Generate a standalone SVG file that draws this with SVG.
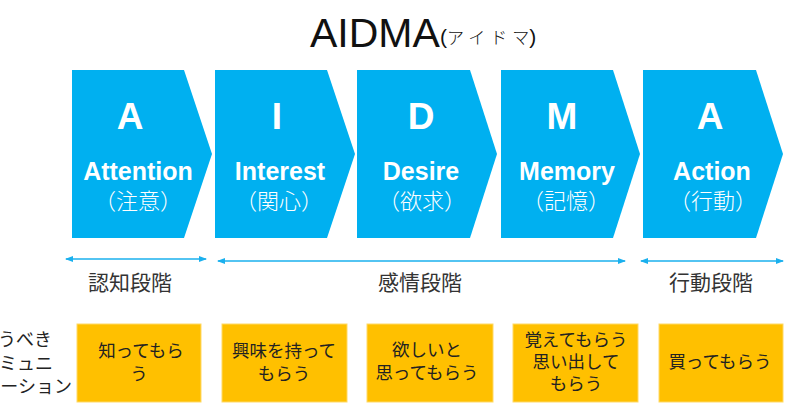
<svg xmlns="http://www.w3.org/2000/svg" width="800" height="419" viewBox="0 0 800 419">
<style>
.chev{fill:#00B0F0}
.big{font-family:"Liberation Sans",Arial,sans-serif;font-weight:bold;font-size:37px;fill:#fff;text-anchor:middle}
.word{font-family:"Liberation Sans",Arial,sans-serif;font-weight:bold;font-size:25px;fill:#fff;text-anchor:middle}
.jp{font-family:"Noto Sans CJK JP","Noto Sans CJK SC",sans-serif;font-weight:300;font-size:22px;fill:#fff;text-anchor:middle}
.stage{font-family:"Noto Sans CJK JP",sans-serif;font-size:21px;fill:#333;text-anchor:middle}
.box{fill:#FFC000;stroke:#FFD966;stroke-width:1}
.bt{font-family:"Noto Sans CJK JP",sans-serif;font-size:17.5px;fill:#222;text-anchor:middle}
.side{font-family:"Noto Sans CJK JP",sans-serif;font-size:18px;fill:#222;text-anchor:end}
.conn{stroke:#1AB0EE;stroke-width:1.6;fill:none;marker-start:url(#ah);marker-end:url(#ah)}
</style>
<defs>
<marker id="ah" viewBox="0 0 8 6" refX="7" refY="3" markerWidth="8" markerHeight="6" markerUnits="userSpaceOnUse" orient="auto-start-reverse">
<path d="M0,0 L8,3 L0,6 Z" fill="#1AB0EE"/>
</marker>
</defs>

<g id="title">
<text x="310" y="47" font-family="Liberation Sans,Arial,sans-serif" font-size="41" fill="#111">AIDMA</text>
<text x="440" y="44" font-family="Liberation Sans,Arial,sans-serif" font-size="21" fill="#111">(<tspan font-family="Noto Sans CJK JP,sans-serif" font-size="17" font-weight="300" letter-spacing="5">アイド</tspan><tspan font-family="Noto Sans CJK JP,sans-serif" font-size="17" font-weight="300">マ</tspan>)</text>
</g>

<g id="attention">
<polygon class="chev" points="72,70 184,70 212,154 184,238 72,238"/>
<text class="big" x="130" y="129">A</text>
<text class="word" x="138" y="180">Attention</text>
<text class="jp" x="138" y="209">（注意）</text>
</g>
<g id="interest">
<polygon class="chev" points="215,70 327,70 355,154 327,238 215,238"/>
<text class="big" x="277" y="129">I</text>
<text class="word" x="280" y="180">Interest</text>
<text class="jp" x="279" y="209">（関心）</text>
</g>
<g id="desire">
<polygon class="chev" points="357,70 470,70 497,154 470,238 357,238"/>
<text class="big" x="421" y="129">D</text>
<text class="word" x="421" y="180">Desire</text>
<text class="jp" x="422" y="209">（欲求）</text>
</g>
<g id="memory">
<polygon class="chev" points="501,70 613,70 640,154 613,238 501,238"/>
<text class="big" x="562" y="129">M</text>
<text class="word" x="567" y="180">Memory</text>
<text class="jp" x="566" y="209">（記憶）</text>
</g>
<g id="action">
<polygon class="chev" points="643,70 756,70 783,154 756,238 643,238"/>
<text class="big" x="710" y="129">A</text>
<text class="word" x="712" y="180">Action</text>
<text class="jp" x="713" y="209">（行動）</text>
</g>

<g id="connectors">
<line class="conn" x1="66" y1="259" x2="206" y2="259"/>
<line class="conn" x1="218" y1="261" x2="625" y2="261"/>
<line class="conn" x1="641" y1="261" x2="783" y2="261"/>
</g>

<g id="stage-ninchi"><text class="stage" x="130" y="290">認知段階</text></g>
<g id="stage-kanjo"><text class="stage" x="420" y="290">感情段階</text></g>
<g id="stage-kodo"><text class="stage" x="711" y="290">行動段階</text></g>

<g id="side-label">
<text class="side" x="52" y="346">うべき</text>
<text class="side" x="53" y="370">ミュニ</text>
<text class="side" x="72" y="393">ーション</text>
</g>

<g id="box1">
<rect class="box" x="77" y="324" width="124" height="78"/>
<text class="bt" x="141" y="357">知ってもら</text>
<text class="bt" x="139" y="380">う</text>
</g>
<g id="box2">
<rect class="box" x="222" y="324" width="125" height="78"/>
<text class="bt" x="284" y="357">興味を持って</text>
<text class="bt" x="284" y="380">もらう</text>
</g>
<g id="box3">
<rect class="box" x="367" y="324" width="126" height="78"/>
<text class="bt" x="427" y="356">欲しいと</text>
<text class="bt" x="427" y="379">思ってもらう</text>
</g>
<g id="box4">
<rect class="box" x="513" y="324" width="125" height="78"/>
<text class="bt" x="576" y="346">覚えてもらう</text>
<text class="bt" x="576" y="368">思い出して</text>
<text class="bt" x="576" y="390">もらう</text>
</g>
<g id="box5">
<rect class="box" x="659" y="324" width="124" height="78"/>
<text class="bt" x="720" y="368">買ってもらう</text>
</g>
</svg>
